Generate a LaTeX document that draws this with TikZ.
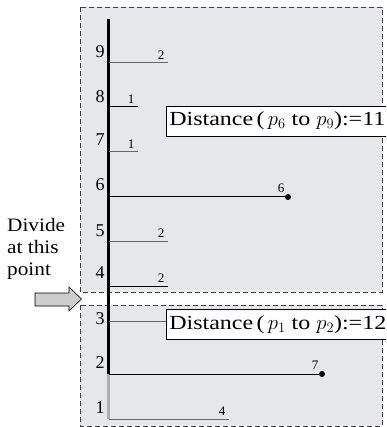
\documentclass[tikz,border=0pt]{standalone}
\usepackage{fontspec}
\setmainfont{Liberation Serif}
\newfontfamily\widefont{Liberation Serif}[FakeStretch=1.12]
\newfontfamily\boxfont{Liberation Serif}[FakeStretch=1.2]
\definecolor{panelgray}{RGB}{230,231,233}
\definecolor{rulegray}{RGB}{105,105,105}
\definecolor{spinegray}{RGB}{175,175,175}
\definecolor{arrowgray}{RGB}{205,205,205}
\usetikzlibrary{positioning,calc}

\begin{document}
\begin{tikzpicture}[x=1pt,y=-1pt,
  panel/.style={draw=black!75, dash pattern=on 5pt off 3pt, fill=panelgray, line width=0.6pt},
  level/.style={line width=1pt},
  lvlnum/.style={font=\fontsize{18}{18}\selectfont, inner sep=0pt},
  gap/.style={font=\fontsize{13}{13}\selectfont, inner sep=0pt, anchor=south},
  distbox/.style={draw, fill=white, line width=0.6pt, anchor=west, minimum height=30pt, inner xsep=3pt, font=\boxfont\fontsize{20}{20}\selectfont}]
  \useasboundingbox (0,0) rectangle (386,427);
  \clip (0,0) rectangle (386,427);
  % Panels
  \path[panel] (80,7) rectangle (382,292);
  \path[panel] (80,305) rectangle (382,426);
  % Spine points and ends
  \coordinate (top) at (108.5,19);
  \coordinate (s9) at (108.5,63);  \coordinate (e9) at (168,63);
  \coordinate (s8) at (108.5,107); \coordinate (e8) at (138,107);
  \coordinate (s7) at (108.5,152); \coordinate (e7) at (138,152);
  \coordinate (s6) at (108.5,197); \coordinate (e6) at (288,197);
  \coordinate (s5) at (108.5,241); \coordinate (e5) at (168,241);
  \coordinate (s4) at (108.5,286); \coordinate (e4) at (168,286);
  \coordinate (s3) at (108.5,321);
  \coordinate (s2) at (108.5,374); \coordinate (e2) at (322,374);
  \coordinate (s1) at (108.5,419); \coordinate (e1) at (229,419);
  % Spine
  \draw[spinegray, line width=3pt] (s2) -- (s1);
  \draw[black, line width=3pt] (top) -- (s2);
  % Levels
  \draw[level, rulegray] (s9) -- (e9);
  \draw[level] (s8) -- (e8);
  \draw[level, rulegray] (s7) -- (e7);
  \draw[level] (s6) -- (e6);
  \draw[level, rulegray] (s5) -- (e5);
  \draw[level] (s4) -- (e4);
  \draw[level] (s2) -- (e2);
  \draw[level, rulegray] (s1) -- (e1);
  \fill (e6) circle (3pt);
  \fill (e2) circle (3pt);
  % Gaps
  \node[gap] (g9) at (161,60) {2};
  \node[gap] (g8) at (131,104) {1};
  \node[gap] (g7) at (131,149) {1};
  \node[gap] (g6) at (281,193) {6};
  \node[gap] (g5) at (161,238) {2};
  \node[gap] (g4) at (161,283) {2};
  \node[gap] (g2) at (315,370) {7};
  \node[gap] (g1) at (222,416) {4};
  % Level numbers
  \node[lvlnum] (n9) at (100,52) {9};
  \node[lvlnum] (n8) at (100,97) {8};
  \node[lvlnum] (n7) at (100,140) {7};
  \node[lvlnum] (n6) at (100,185) {6};
  \node[lvlnum] (n5) at (100,231) {5};
  \node[lvlnum] (n4) at (100,273) {4};
  \node[lvlnum] (n3) at (100,319) {3};
  \node[lvlnum] (n2) at (100,363) {2};
  \node[lvlnum] (n1) at (100,408) {1};
  % Distance boxes
  \node[distbox] (dupper) at (166,121) {Distance\,(\,$p_{6}$ to $p_{9}$):=11};
  \node[distbox] (dlower) at (166,324.5) {Distance\,(\,$p_{1}$ to $p_{2}$):=12};
  \draw[level, rulegray] (s3) -- (dlower.west |- s3);
  % Divide marker
  \node[align=left, anchor=base west, inner sep=0pt, font=\widefont\fontsize{19}{22}\selectfont] (divide) at (7,275) {Divide\\at this\\point};
  \draw[fill=arrowgray, line width=0.6pt] (35,293) -- (69,293) -- (69,287) -- (81.5,299) -- (69,311) -- (69,306) -- (35,306) -- cycle;
\end{tikzpicture}
\end{document}
